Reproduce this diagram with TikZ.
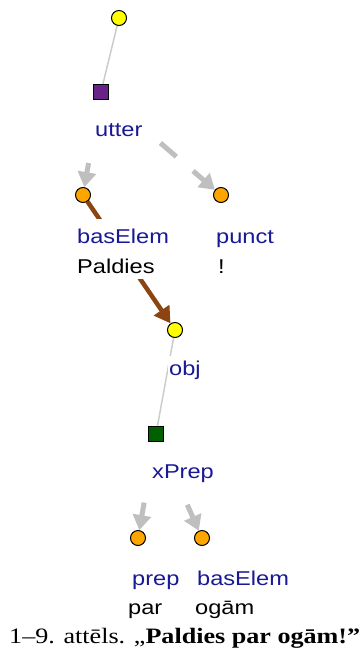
\documentclass[tikz,border=0pt]{standalone}
\usepackage{fontspec}
\setmainfont{Liberation Sans}
\newfontfamily\capfont{Liberation Serif}
\usetikzlibrary{arrows.meta,calc,backgrounds}
\definecolor{lblue}{RGB}{25,25,150}
\definecolor{nodeyellow}{RGB}{255,255,0}
\definecolor{nodeorange}{RGB}{255,165,0}
\definecolor{nodepurple}{RGB}{104,34,136}
\definecolor{nodegreen}{RGB}{0,96,0}
\definecolor{arrbrown}{RGB}{139,69,19}
\newcommand{\wide}[1]{\scalebox{1.18}[1]{#1}}
\begin{document}
\begin{tikzpicture}[x=1pt,y=-1pt,
  ynode/.style={circle,draw=black,fill=nodeyellow,minimum size=15pt,inner sep=0pt,line width=1pt},
  onode/.style={circle,draw=black,fill=nodeorange,minimum size=15pt,inner sep=0pt,line width=1pt},
  sqnode/.style={rectangle,draw=black,minimum size=15pt,inner sep=0pt,line width=1pt},
  lbl/.style={anchor=base west,inner xsep=1pt,inner ysep=5pt,fill=white,text=lblue,font=\fontsize{20}{20}\selectfont},
  wrd/.style={anchor=base west,inner xsep=1pt,inner ysep=5pt,fill=white,text=black,font=\fontsize{20}{20}\selectfont},
  thinline/.style={draw=gray!40,line width=1.5pt},
  garrow/.style={draw=gray!50,line width=5pt,-{Triangle[width=18pt,length=15pt]}},
  barrow/.style={draw=arrbrown,line width=4.5pt,-{Triangle[width=18pt,length=16pt]}}]
\useasboundingbox (0,0) rectangle (362,652);

% nodes
\node[ynode] (top) at (119,18) {};
\node[sqnode,fill=nodepurple] (sq1) at (101,92) {};
\node[lbl] (utter) at (94,137) {\wide{utter\strut}};
\node[onode] (b1) at (83,195) {};
\node[onode] (p1) at (221,195) {};
\node[lbl,text height=20pt,text depth=12pt,inner ysep=4pt] (basElemA) at (76,243) {\wide{basElem}};
\node[wrd,text height=15pt,text depth=2pt,inner ysep=4pt] (paldies) at (76,273) {\wide{Paldies}};
\node[lbl] (punct) at (215,243) {\wide{punct\strut}};
\node[wrd] (excl) at (217,273) {\wide{!\strut}};
\node[ynode] (o1) at (175,330) {};
\node[lbl] (obj) at (168,375) {\wide{obj\strut}};
\node[sqnode,fill=nodegreen] (sq2) at (156,434) {};
\node[lbl] (xprep) at (151,478) {\wide{xPrep\strut}};
\node[onode] (pr) at (138,538) {};
\node[onode] (b2) at (202,538) {};
\node[lbl] (prep) at (131,585) {\wide{prep\strut}};
\node[lbl] (basElemB) at (196,585) {\wide{basElem\strut}};
\node[wrd] (par) at (127,614) {\wide{par\strut}};
\node[wrd] (ogam) at (194,614) {\wide{ogām\strut}};
\node[anchor=base west,inner sep=0pt,font=\capfont\fontsize{22}{22}\selectfont] (caption) at (9,643)
  {\resizebox{351pt}{\height}{1–9. attēls. „\textbf{Paldies par ogām!”}}};

% connector anchors
\coordinate (s1) at ($(sq1)!0.69!(b1)$);
\coordinate (s2) at ($(sq1)!0.495!(p1)$);
\coordinate (s3) at ($(sq2)!0.66!(pr)$);
\coordinate (s4) at ($(sq2)!0.68!(b2)$);

\begin{scope}[on background layer]
  \draw[thinline] (top) -- (sq1);
  \draw[thinline] (o1) -- (sq2);
  \draw[barrow] (b1) -- (o1);
  \draw[garrow] (s1) -- (b1);
  \draw[garrow,dash pattern=on 21pt off 22pt] (s2) -- (p1);
  \draw[garrow] (s3) -- (pr);
  \draw[garrow] (s4) -- (b2);
\end{scope}
\end{tikzpicture}
\end{document}
